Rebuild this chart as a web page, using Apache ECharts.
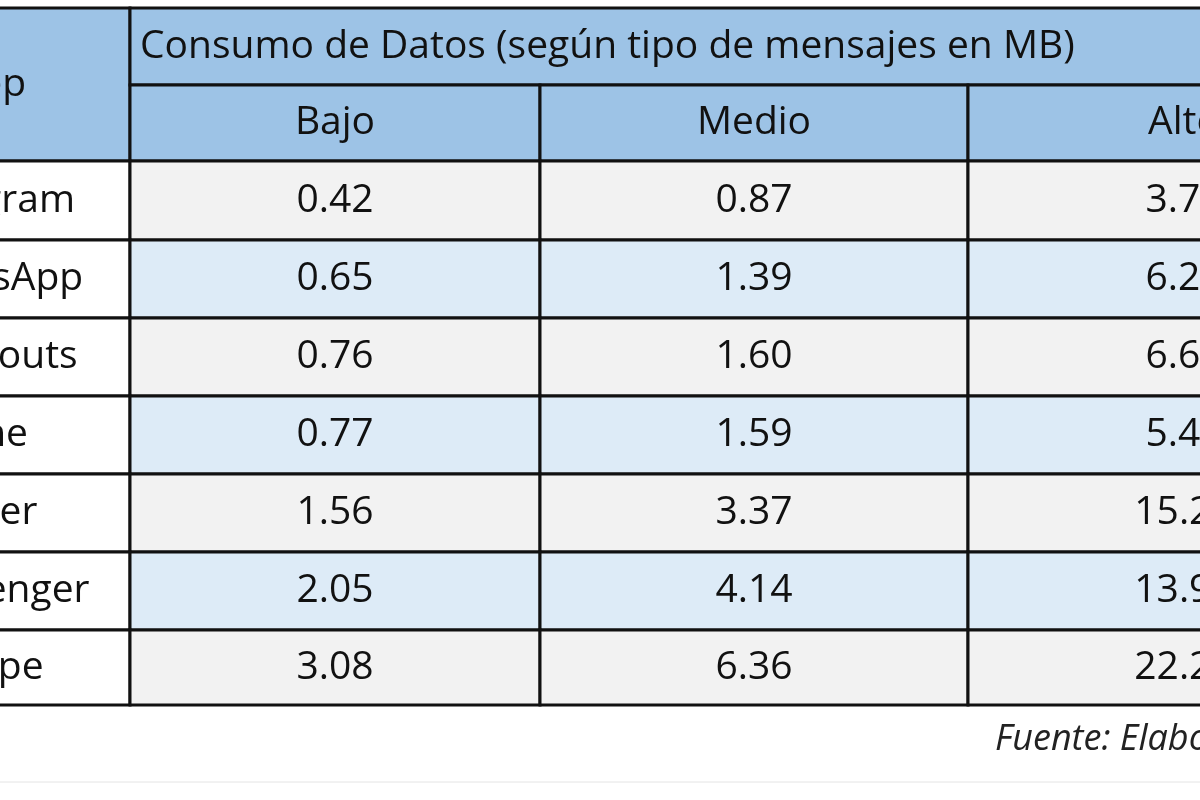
<!DOCTYPE html>
<html>
<head>
<meta charset="utf-8">
<script src="https://cdn.jsdelivr.net/npm/echarts@6/dist/echarts.min.js"></script>
<style>
  html, body { margin: 0; padding: 0; background: #fff; }
  #chart { width: 1200px; height: 800px; }
</style>
</head>
<body>
<div id="chart"></div>
<script>
// 表格数据
const apps = ['Telegram', 'WhatsApp', 'Hangouts', 'Line', 'Viber', 'Messenger', 'Skype'];
const levels = ['Bajo', 'Medio', 'Alto'];
const bajo = ['0.42', '0.65', '0.76', '0.77', '1.56', '2.05', '3.08'];
const medio = ['0.87', '1.39', '1.60', '1.59', '3.37', '4.14', '6.36'];
const alto = ['3.75', '6.23', '6.60', '5.48', '15.21', '13.90', '22.20'];
const headerTitle = 'Consumo de Datos (según tipo de mensajes en MB)';
const appHeader = 'App';
const source = 'Fuente: Elaboración propia';

// 版面 (像素坐标轴)
const colEdges = [-150, 130, 540, 968, 1400];
const rowEdges = [8, 85, 161, 240, 318, 396, 474, 552, 630, 705];
const FONT = '"Open Sans", "Liberation Sans", sans-serif';
const BLUE = '#9dc3e6', LIGHT = '#ddebf7', GRAY = '#f2f2f2';

const cells = [];
// 表头
cells.push({ c0: 0, c1: 1, r0: 0, r1: 2, text: appHeader, fill: BLUE, align: 'center' });
cells.push({ c0: 1, c1: 4, r0: 0, r1: 1, text: headerTitle, fill: BLUE, align: 'left' });
levels.forEach((l, i) => cells.push({ c0: i + 1, c1: i + 2, r0: 1, r1: 2, text: l, fill: BLUE, align: 'center' }));
// 数据行
const cols = [bajo, medio, alto];
apps.forEach((a, r) => {
  const fill = r % 2 ? LIGHT : GRAY;
  cells.push({ c0: 0, c1: 1, r0: r + 2, r1: r + 3, text: a, fill: '#fff', align: 'center' });
  cols.forEach((col, c) => cells.push({ c0: c + 1, c1: c + 2, r0: r + 2, r1: r + 3, text: col[r], fill: fill, align: 'center' }));
});

const chart = echarts.init(document.getElementById('chart'));

chart.setOption({
  animation: false,
  grid: { left: 0, right: 0, top: 0, bottom: 0 },
  xAxis: { type: 'value', min: 0, max: 1200, show: false },
  yAxis: { type: 'value', min: 0, max: 800, inverse: true, show: false },
  series: [{
    type: 'custom',
    clip: true,
    data: cells.map((c, i) => [i]),
    renderItem: function (params, api) {
      const c = cells[api.value(0)];
      const p0 = api.coord([colEdges[c.c0], rowEdges[c.r0]]);
      const p1 = api.coord([colEdges[c.c1], rowEdges[c.r1]]);
      const w = p1[0] - p0[0], h = p1[1] - p0[1];
      return {
        type: 'group',
        children: [
          { type: 'rect', shape: { x: p0[0], y: p0[1], width: w, height: h },
            style: { fill: c.fill, stroke: '#111', lineWidth: 3 } },
          { type: 'text',
            style: { text: c.text, x: c.align === 'left' ? p0[0] + 10 : p0[0] + w / 2, y: p0[1] + h / 2,
              align: c.align, verticalAlign: 'middle', fill: '#111', font: '39px ' + FONT } }
        ]
      };
    }
  }],
  graphic: [
    { type: 'line', shape: { x1: 0, y1: 782, x2: 1200, y2: 782 }, style: { stroke: '#e4e4e4', lineWidth: 1 }, z: -1 },
    { type: 'text', left: 995, top: 722,
      style: { text: source, font: 'italic 36px ' + FONT, fill: '#222' } }
  ]
});
</script>
</body>
</html>
